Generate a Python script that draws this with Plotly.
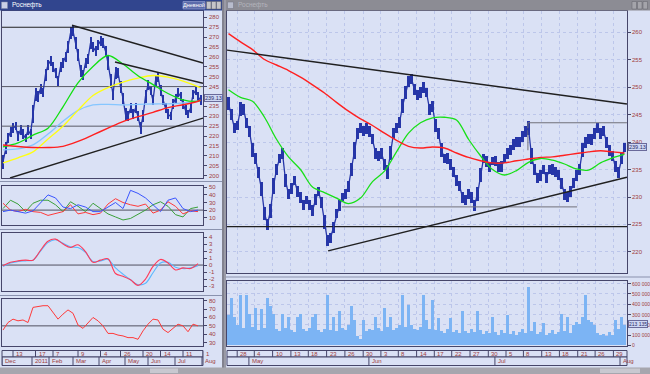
import plotly.graph_objects as go
import numpy as np

W, H = 650, 374
FONT = "Liberation Sans"
BG = "#dae1f5"
BOX = "#46466a"
LBL = "#a03c3c"
NAVY = "#2636a8"

# ---------------- DATA ----------------
# Left window: daily chart (Dec 2010 - Aug 2011), one sample ~ every 2 sessions
left_mid = [207, 214, 219, 222, 224, 225, 220, 223, 221, 219,
            223, 221, 231, 241, 240, 244, 242, 251, 256, 258,
            255, 252, 248, 255, 257, 260, 265, 272, 273, 267,
            261, 253, 251, 257, 259, 267, 265, 263, 266, 268,
            267, 263, 257, 248, 241, 252, 252, 245, 239, 231,
            230, 234, 231, 234, 230, 224, 230, 240, 246, 243,
            238, 248, 250, 243, 238, 234, 231, 230, 236, 239,
            242, 240, 236, 233, 231, 234, 241, 243, 240, 238]
left_span = [7, 6, 5, 5, 5, 4, 5, 5, 5, 4,
             5, 5, 9, 7, 6, 5, 5, 6, 5, 5,
             5, 5, 5, 5, 5, 5, 6, 6, 5, 6,
             6, 6, 5, 5, 5, 6, 5, 5, 5, 5,
             5, 5, 7, 7, 6, 6, 5, 6, 6, 6,
             5, 5, 5, 5, 5, 6, 6, 7, 5, 5,
             5, 6, 5, 6, 5, 5, 5, 4, 5, 5,
             5, 5, 5, 5, 4, 5, 5, 5, 5, 5]
left_ma_idx = [0, 6, 12, 18, 24, 30, 36, 42, 48, 54, 60, 66, 72, 78, 79]
left_ma_green = [214.5, 216.5, 220.5, 224.0, 234.8, 246.9, 255.2, 260.7, 256.4, 250.5, 246.0, 241.5, 238.3, 237.6, 238.0]
left_ma_yellow = [206.4, 209.0, 212.0, 218.5, 225.0, 233.0, 240.5, 244.5, 247.3, 249.3, 250.6, 249.8, 247.8, 245.0, 244.5]
left_ma_lblue = [213.0, 213.5, 215.5, 221.0, 227.5, 233.0, 235.8, 236.0, 235.8, 236.0, 236.2, 236.3, 236.7, 237.8, 238.0]
left_ma_red = [215.5, 214.7, 214.2, 214.2, 214.8, 217.3, 220.6, 224.0, 227.3, 229.8, 232.0, 234.4, 235.8, 237.6, 238.1]
left_level_black = [275]
left_level_grey = [245, 225]
left_trends = [[[27.6, 80.0], [276.0, 256.9]],
               [[44.8, 80.0], [257.4, 246.7]],
               [[2.8, 80.0], [198.8, 229.1]]]

# indicators (left window)
ind_idx = list(range(0, 79, 3))
dmi_blue = [18, 20, 18, 16, 19, 30, 40, 36, 24, 22, 27, 24, 18, 18, 24, 30, 22, 46, 42, 36, 27, 18, 33, 36, 22, 18, 20]
dmi_red = [29, 20, 18, 21, 18, 17, 13, 15, 18, 27, 15, 17, 14, 16, 28, 35, 30, 27, 25, 28, 16, 20, 31, 25, 15, 19, 18]
dmi_green = [22, 33, 28, 18, 29, 33, 33, 27, 18, 31, 25, 18, 29, 22, 15, 11, 7, 9, 14, 20, 27, 31, 25, 14, 11, 22, 24]
macd_red = [-0.1, 0.4, 0.6, 0.7, 0.7, 2.1, 3.4, 3.7, 3.0, 2.5, 2.9, 1.9, 0.4, 0.7, 0.9, -1.2, -1.6, -2.1, -2.9, -2.0, -0.2, 0.8, 0.3, -0.7, -0.4, -0.5, 0.2]
macd_blue = [-0.2, 0.3, 0.5, 0.6, 0.7, 2.0, 3.2, 3.6, 3.1, 2.6, 2.5, 1.8, 0.5, 0.6, 0.8, -0.4, -1.3, -2.1, -2.8, -2.6, -1.1, 0.3, 0.4, -0.3, -0.5, -0.4, -0.1]
rsi_idx = list(range(0, 80, 2))
rsi_vals = [45, 54, 58, 56, 57, 54, 72, 73, 74, 74, 66, 58, 64, 69, 65, 51, 47, 54, 60, 56,
            50, 41, 41, 39, 38, 36, 36, 34, 44, 52, 58, 57, 46, 42, 47, 52, 50, 43, 52, 50]
dmi_level, macd_level, rsi_level = 20, 0, 50

# Right window: intraday chart (end Apr - 1 Aug 2011)
right_mid = [247, 245, 242.5, 243, 246, 246, 243.5, 242, 238.5, 237,
             234.5, 231.5, 227, 225, 227.5, 232, 235, 237, 238, 233,
             230.5, 231.5, 233, 231, 230, 228.5, 229.5, 228.5, 227.5, 229.5,
             231, 229, 225.5, 222, 222.5, 224.5, 227, 228.5, 230, 230.5,
             232, 235, 238.5, 241.5, 242.5, 242, 242.5, 242, 240.5, 238,
             237.5, 238, 236, 234.5, 238, 241.5, 242.5, 243.5, 246.5, 249,
             251, 251.5, 249.5, 248.5, 249, 250, 249, 246, 246.5, 243,
             241.5, 238.5, 237, 237, 236, 234.5, 233, 232, 230, 229.5,
             230.5, 230, 228.5, 230.5, 234, 237, 236.5, 235.5, 236.5, 236.5,
             235.5, 235.5, 237, 238, 238.5, 239.5, 240, 240, 241, 242,
             242.5, 237.5, 235, 233.5, 234, 235, 233.5, 235, 235, 234.5,
             234, 232.5, 230.5, 230, 231, 232.5, 234, 235, 238.5, 240,
             240.5, 240.5, 241.5, 242.5, 241.5, 242, 240, 238.5, 237.5, 235.5,
             234.5, 237, 239]
right_span = [2.5, 2, 1.8, 1.8, 2.5, 2, 1.8, 2, 2.5, 2,
              2, 2.5, 2.5, 2, 2.5, 3, 2, 1.8, 2, 2.5,
              1.8, 2, 1.8, 2, 2, 1.8, 1.5, 1.8, 2, 2,
              1.8, 2, 2.5, 2, 1.8, 2, 1.8, 2, 1.5, 1.8,
              2, 2.5, 3, 2, 1.8, 1.8, 2, 2, 1.8, 2,
              1.8, 2, 2, 2.5, 2.5, 2, 1.8, 2, 2.5, 2.5,
              2, 1.8, 2, 1.8, 2, 2, 1.8, 2, 2, 2.5,
              2, 2.5, 1.8, 2, 2, 1.8, 2, 1.8, 2, 1.8,
              1.8, 2, 2, 2.5, 2.5, 1.8, 2, 1.8, 1.5, 1.8,
              1.8, 2, 1.8, 2, 1.8, 2, 1.8, 1.8, 2, 2,
              2.5, 3, 2, 1.8, 2, 1.8, 2, 1.8, 2, 1.8,
              1.8, 2, 2, 1.8, 2, 1.8, 2, 2, 2.5, 2,
              1.8, 2, 2, 1.8, 2, 1.8, 2, 2, 1.8, 2,
              2, 2, 1.8]
right_ma_idx = list(range(0, 129, 4)) + [132]
right_ma_green = [249.5, 248.1, 247.4, 244.5, 240.5, 237.3, 235.0, 231.8, 230.8, 229.8, 228.8, 229.8,
                  232.8, 234.7, 238.2, 241.6, 243.5, 244.4, 244.5, 244.0, 240.5, 237.5, 235.0, 234.0,
                  234.8, 236.3, 237.0, 236.7, 236.0, 235.1, 234.9, 236.2, 237.1, 237.8]
right_ma_red = [259.7, 258.2, 256.8, 255.0, 254.0, 253.0, 251.8, 250.4, 248.9, 247.2, 245.6, 244.2,
                243.0, 241.6, 240.3, 239.2, 238.9, 239.1, 238.9, 238.0, 237.2, 236.6, 236.2, 236.2,
                236.6, 236.9, 237.2, 237.3, 237.6, 237.9, 238.2, 238.4, 238.2, 238.0]
right_level_black = [224.6]
right_trends = [[[-0.5, 132.8], [256.7, 246.9]],
                [[33.2, 132.8], [220.2, 233.6]]]
right_grey_segments = [[[37.8, 116.2], [228.2, 228.2]],
                       [[99.8, 132.8], [243.5, 243.5]],
                       [[99.8, 99.8], [243.5, 238.5]]]
volume_k = [300, 460, 280, 200, 490, 170, 490, 310, 180, 360,
            150, 350, 170, 460, 380, 310, 160, 140, 310, 170,
            280, 150, 130, 280, 310, 160, 140, 170, 280, 310,
            150, 130, 160, 490, 150, 280, 140, 330, 170, 150,
            200, 380, 250, 90, 60, 250, 140, 160, 150, 280,
            170, 140, 360, 180, 280, 150, 170, 200, 490, 180,
            390, 200, 160, 150, 180, 490, 250, 160, 440, 150,
            270, 140, 120, 160, 270, 130, 150, 120, 330, 140,
            120, 160, 130, 330, 150, 110, 140, 120, 280, 130,
            100, 150, 120, 300, 110, 140, 100, 130, 160, 120,
            570, 140, 230, 110, 130, 220, 100, 120, 150, 110,
            130, 310, 140, 280, 120, 200, 230, 210, 280, 490,
            250, 230, 200, 120, 100, 110, 90, 130, 100, 250,
            160, 280, 200]
last_price = 239.13
last_volume = 213135
last_volume_text = "213 135"

# date strips
left_day_ticks = [4, 13, 20, 30, 39, 47, 56, 63, 72, 80]
left_day_labels = ["13", "17", "7", "9", "4", "26", "20", "14", "11", "1"]
left_month_ticks = [-0.4, 11.6, 18.4, 28, 38.4, 48.8, 58, 68.8, 79.6]
left_month_labels = ["Dec", "2011", "Feb", "Mar", "Apr", "May", "Jun", "Jul", "Aug"]
right_day_ticks = [2.9, 8.6, 14.7, 20.8, 26.6, 32.7, 38.8, 44.9, 50.8, 56.6, 62.7,
                   68.6, 74.4, 80.5, 86.6, 92.5, 98.3, 104.4, 110.3, 116.4, 122.2, 128.3]
right_day_labels = ["28", "4", "10", "13", "18", "23", "26", "30", "3", "8", "14",
                    "17", "22", "27", "30", "5", "8", "13", "18", "21", "26", "29"]
right_month_ticks = [6.8, 46.8, 88.8, 130.5]
right_month_labels = ["May", "Jun", "Jul", "Aug"]

left_y_ticks = list(range(200, 281, 5))
right_y_ticks = list(range(220, 261, 5))
dmi_ticks = [10, 20, 30, 40, 50]
macd_ticks = [-3, -2, -1, 0, 1, 2, 3, 4]
rsi_ticks = [30, 40, 50, 60, 70, 80]
vol_ticks = [0, 100000, 200000, 300000, 400000, 500000, 600000]
vol_tick_text = ["0", "100 000", "200 000", "300 000", "400 000", "500 000", "600 000"]


# ---------------- helpers ----------------
def X(px):
    return px / W


def Y(py):
    return 1 - py / H


LRANGE = [-0.4, 80.0]
RRANGE = [-0.5, 132.83]

fig = go.Figure()


def line(x, y, color, width, xa, ya, spline=False):
    ln = dict(color=color, width=width)
    if spline:
        ln.update(shape="spline", smoothing=0.9)
    fig.add_trace(go.Scatter(x=x, y=y, mode="lines", line=ln, xaxis=xa, yaxis=ya,
                             hoverinfo="skip", showlegend=False))


# ---- left price ----
lx = list(range(len(left_mid)))
lmid = np.array(left_mid, float)
lspan = np.array(left_span, float)
for lv in left_level_grey:
    line(LRANGE, [lv, lv], "#5a5a66", 1, "x", "y")
for lv in left_level_black:
    line(LRANGE, [lv, lv], "#202020", 1.2, "x", "y")
fig.add_trace(go.Bar(x=lx, y=lspan, base=lmid - lspan / 2, width=0.8,
                     marker=dict(color=NAVY, line=dict(width=0)),
                     xaxis="x", yaxis="y", hoverinfo="skip", showlegend=False))
line(lx, left_mid, NAVY, 1.3, "x", "y")
line(left_ma_idx, left_ma_lblue, "#86c6ff", 1.3, "x", "y", True)
line(left_ma_idx, left_ma_yellow, "#ffff10", 1.3, "x", "y", True)
line(left_ma_idx, left_ma_green, "#10e010", 1.3, "x", "y", True)
line(left_ma_idx, left_ma_red, "#ff2020", 1.4, "x", "y", True)
for tx, ty in left_trends:
    line(tx, ty, "#202020", 1.4, "x", "y")

# ---- DMI ----
line(LRANGE, [dmi_level, dmi_level], "#505060", 1, "x2", "y2")
line(ind_idx, dmi_green, "#3aa03a", 1, "x2", "y2")
line(ind_idx, dmi_red, "#ff3a3a", 1, "x2", "y2")
line(ind_idx, dmi_blue, "#3a55ff", 1, "x2", "y2")

# ---- MACD ----
line(LRANGE, [macd_level, macd_level], "#505060", 1, "x3", "y3")
line(ind_idx, macd_blue, "#5ab8ff", 1.1, "x3", "y3", True)
line(ind_idx, macd_red, "#ff3a5a", 1.1, "x3", "y3", True)

# ---- RSI ----
line(LRANGE, [rsi_level, rsi_level], "#505060", 1, "x4", "y4")
line(rsi_idx, rsi_vals, "#ff3a3a", 1, "x4", "y4")

# ---- right price ----
rx = list(range(len(right_mid)))
rmid = np.array(right_mid, float)
rspan = np.array(right_span, float)
for sx, sy in right_grey_segments:
    line(sx, sy, "#70707a", 1, "x5", "y5")
for lv in right_level_black:
    line(RRANGE, [lv, lv], "#202020", 1.2, "x5", "y5")
fig.add_trace(go.Bar(x=rx, y=rspan, base=rmid - rspan / 2, width=0.7,
                     marker=dict(color=NAVY, line=dict(width=0)),
                     xaxis="x5", yaxis="y5", hoverinfo="skip", showlegend=False))
line(rx, right_mid, NAVY, 1.3, "x5", "y5")
line(right_ma_idx, right_ma_green, "#18e018", 1.3, "x5", "y5", True)
line(right_ma_idx, right_ma_red, "#ff2020", 1.4, "x5", "y5", True)
for tx, ty in right_trends:
    line(tx, ty, "#202020", 1.4, "x5", "y5")

# ---- volume ----
fig.add_trace(go.Bar(x=rx, y=np.array(volume_k, float) * 1000, width=0.75,
                     marker=dict(color="#7cb4f4", line=dict(width=0)),
                     xaxis="x6", yaxis="y6", hoverinfo="skip", showlegend=False))

# ---------------- axes ----------------
LX = [X(2), X(203)]
RX = [X(227), X(627)]
GRID = "#bcc6ea"


def xax(dom, rng, anchor, grid=None):
    d = dict(domain=dom, range=rng, anchor=anchor, showticklabels=False, ticks="",
             zeroline=False, showline=True, mirror=True, linecolor=BOX, linewidth=1,
             showgrid=False, fixedrange=True)
    if grid is not None:
        d.update(tickmode="array", tickvals=grid, showgrid=True,
                 gridcolor=GRID, gridwidth=1, griddash="dot")
    return d


def yax(dom, rng, anchor, tickvals, grid=False):
    return dict(domain=dom, range=rng, anchor=anchor, side="right", tickmode="array",
                tickvals=tickvals, ticks="outside", ticklen=3, tickcolor=BOX,
                showticklabels=False,
                zeroline=False, showline=True, mirror=True, linecolor=BOX, linewidth=1,
                showgrid=grid, gridcolor=GRID, griddash="dot", fixedrange=True)


layout = dict(
    width=W, height=H, autosize=False,
    margin=dict(l=0, r=0, t=0, b=0, pad=0),
    paper_bgcolor=BG, plot_bgcolor=BG,
    showlegend=False, bargap=0, barmode="overlay", hovermode=False,
    font=dict(family=FONT, size=6, color=LBL),
    xaxis=xax(LX, LRANGE, "y"),
    yaxis=yax([Y(178), Y(11)], [198.8, 283.2], "x", left_y_ticks),
    xaxis2=xax(LX, LRANGE, "y2"),
    yaxis2=yax([Y(225), Y(186)], [0.4, 51.7], "x2", dmi_ticks),
    xaxis3=xax(LX, LRANGE, "y3"),
    yaxis3=yax([Y(291), Y(233)], [-3.7, 4.57], "x3", macd_ticks),
    xaxis4=xax(LX, LRANGE, "y4"),
    yaxis4=yax([Y(346), Y(299)], [26, 82], "x4", rsi_ticks),
    xaxis5=xax(RX, RRANGE, "y5", right_day_ticks),
    yaxis5=yax([Y(273), Y(11)], [216.18, 263.82], "x5", right_y_ticks, grid=True),
    xaxis6=xax(RX, RRANGE, "y6", right_day_ticks),
    yaxis6=yax([Y(346), Y(281)], [-5000, 626000], "x6", vol_ticks, grid=True),
)

shapes = []
annots = []


def rect(x0, y0, x1, y1, fill, lc=None, lw=0):
    shapes.append(dict(type="rect", xref="paper", yref="paper", x0=X(x0), x1=X(x1),
                       y0=Y(y1), y1=Y(y0), fillcolor=fill,
                       line=dict(color=lc or fill, width=lw), layer="above"))


def hline(x0, x1, py, color, w=1):
    shapes.append(dict(type="line", xref="paper", yref="paper", x0=X(x0), x1=X(x1),
                       y0=Y(py), y1=Y(py), line=dict(color=color, width=w), layer="above"))


def text(px, py, s, color, size=6, anchor="left"):
    annots.append(dict(xref="paper", yref="paper", x=X(px), y=Y(py), text=s, showarrow=False,
                       xanchor=anchor, yanchor="middle",
                       font=dict(size=size, color=color, family=FONT)))


def tick_labels(yref, px, vals, texts=None, size=6):
    texts = texts or [str(v) for v in vals]
    for v, s in zip(vals, texts):
        annots.append(dict(xref="paper", yref=yref, x=X(px), y=v, text=s, showarrow=False,
                           xanchor="left", yanchor="middle",
                           font=dict(size=size, color=LBL, family=FONT)))


tick_labels("y", 206.5, left_y_ticks)
tick_labels("y2", 206.5, dmi_ticks)
tick_labels("y3", 206.5, macd_ticks)
tick_labels("y4", 206.5, rsi_ticks)
tick_labels("y5", 630, right_y_ticks)
tick_labels("y6", 629.5, vol_ticks, vol_tick_text, size=5)

# window chrome
rect(0, 0, 222, 10.5, "#31458e")
rect(1.5, 2, 7.5, 8.5, "#c9d0e6", "#8088a8", 0.5)
text(10, 5.5, "Роснефть", "#ffffff", 6.5)
rect(183, 1.5, 205, 9, "#5c6cab", "#9aa6d6", 0.6)
text(194, 5.5, "Дневной", "#ffffff", 5.5, anchor="center")
for bx in (206.5, 211.5, 216.5):
    rect(bx, 1.5, bx + 4.5, 9, "#c4c4c8", "#606068", 0.5)
rect(226, 0, 650, 10.5, "#8c8c94")
rect(227.5, 2, 233.5, 8.5, "#b8bccc", "#707080", 0.5)
text(236, 5.5, "Роснефть", "#b4b4bc", 6.5)
for bx in (632, 637.5, 643):
    rect(bx, 1.5, bx + 4.5, 9, "#a4a4aa", "#606068", 0.5)
rect(222, 0, 226, 374, "#9a9aa6")
shapes.append(dict(type="line", xref="paper", yref="paper", x0=X(223), x1=X(223), y0=0, y1=1,
                   line=dict(color="#6a6a78", width=1), layer="above"))
for py in (181.5, 229.5, 295.5):
    hline(0, 222, py, "#8a92ae", 1.2)
hline(226, 650, 277, "#8a92ae", 1.2)
rect(0, 367.5, 650, 374, "#a6a6ae")
rect(150, 368.5, 178, 373, "#c8c8d0")
rect(600, 368.5, 640, 373, "#c8c8d0")


def date_strip(xref, px0, px1, t1, l1, t2, l2):
    for (a, b) in ((350.5, 357), (357, 365.5)):
        rect(px0, a, px1, b, BG, BOX, 1)
    for t, s in zip(t1, l1):
        shapes.append(dict(type="line", xref=xref, yref="paper", x0=t, x1=t,
                           y0=Y(357), y1=Y(350.5), line=dict(color=BOX, width=1), layer="above"))
        annots.append(dict(xref=xref, yref="paper", x=t, y=Y(353.8), text=s, showarrow=False,
                           xanchor="left", yanchor="middle", xshift=1,
                           font=dict(size=6, color=LBL, family=FONT)))
    for t, s in zip(t2, l2):
        shapes.append(dict(type="line", xref=xref, yref="paper", x0=t, x1=t,
                           y0=Y(365.5), y1=Y(357), line=dict(color=BOX, width=1), layer="above"))
        annots.append(dict(xref=xref, yref="paper", x=t, y=Y(361.3), text=s, showarrow=False,
                           xanchor="left", yanchor="middle", xshift=1,
                           font=dict(size=6, color=LBL, family=FONT)))


date_strip("x", 2, 203, left_day_ticks, left_day_labels, left_month_ticks, left_month_labels)
date_strip("x5", 227, 627, right_day_ticks, right_day_labels, right_month_ticks, right_month_labels)

# current value boxes (drawn over the tick labels they cover, as in the terminal)
for yref, px in (("y", 204), ("y5", 628)):
    annots.append(dict(xref="paper", yref=yref, x=X(px), y=last_price, text="%.2f" % last_price,
                       showarrow=False, xanchor="left", yanchor="middle",
                       font=dict(size=5.5, color="#2a2a66", family=FONT),
                       bgcolor="#cfd8f4", bordercolor="#6a6a9a", borderwidth=1, borderpad=0))
annots.append(dict(xref="paper", yref="y6", x=X(628), y=last_volume, text=last_volume_text,
                   showarrow=False, xanchor="left", yanchor="middle",
                   font=dict(size=5, color="#2a2a66", family=FONT),
                   bgcolor="#cfd8f4", bordercolor="#6a6a9a", borderwidth=1, borderpad=0))

layout["shapes"] = shapes
layout["annotations"] = annots
fig.update_layout(**layout)
fig.write_html("out.html", config={"displayModeBar": False},
               post_script="document.body.style.margin='0px';document.body.style.overflow='hidden';")
